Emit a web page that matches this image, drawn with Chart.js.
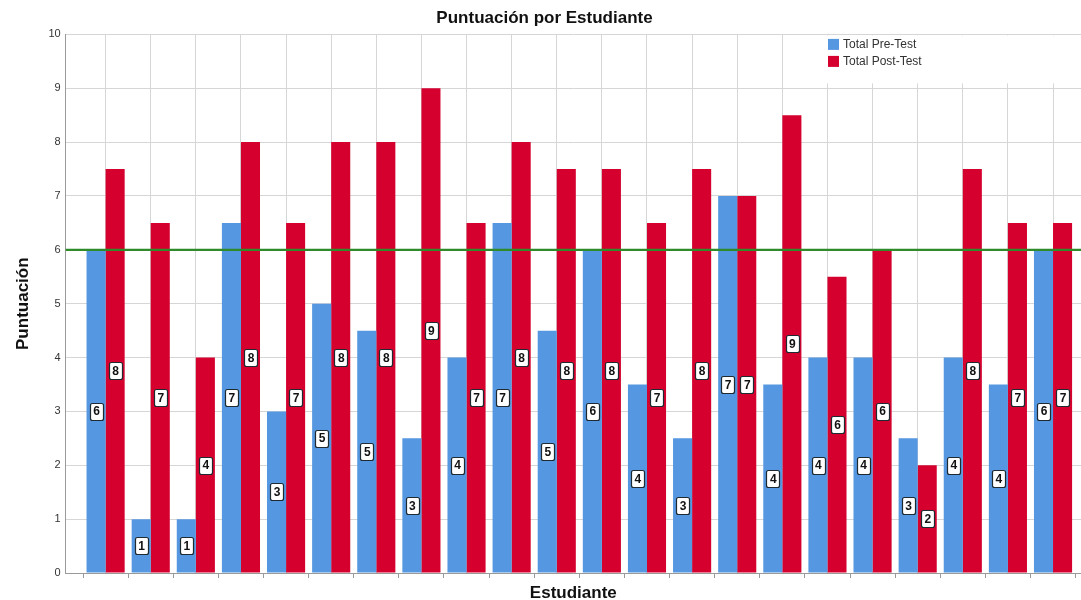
<!DOCTYPE html>
<html><head><meta charset="utf-8">
<script src="https://cdn.jsdelivr.net/npm/chart.js@4"></script>
<style>html,body{margin:0;padding:0;background:#fff}#wrap{width:1081px;height:600px;position:relative}</style>
</head><body><div id="wrap"><canvas id="c"></canvas></div>
<script>
const students = ['1','2','3','4','5','6','7','8','9','10','11','12','13','14','15','16','17','18','19','20','21','22'];
const preTest  = [6, 1, 1, 6.5, 3, 5, 4.5, 2.5, 4, 6.5, 4.5, 6, 3.5, 2.5, 7, 3.5, 4, 4, 2.5, 4, 3.5, 6];
const postTest = [7.5, 6.5, 4, 8, 6.5, 8, 8, 9, 6.5, 8, 7.5, 7.5, 6.5, 7.5, 7, 8.5, 5.5, 6, 2, 7.5, 6.5, 6.5];
const seriesNames = ['Total Pre-Test', 'Total Post-Test'];
const yTicks = [0,1,2,3,4,5,6,7,8,9,10];
const threshold = 6;

const FONT = '"Liberation Sans", Arial, sans-serif';
const BLUE = '#5597e0', RED = '#d6002f', GRID = '#d6d6d6', AXIS = '#9a9a9a';
const X_MIN = 0.114, X_MAX = 22.62;

const toPts = arr => arr.map((v, i) => ({x: i + 1, y: v}));

const refLine = {
  id: 'refLine',
  afterDatasetsDraw(chart) {
    const {ctx, chartArea: a, scales: {y}} = chart;
    const py = y.getPixelForValue(threshold);
    ctx.save();
    ctx.strokeStyle = '#2f8a2a'; ctx.lineWidth = 2.2;
    ctx.beginPath(); ctx.moveTo(a.left, py); ctx.lineTo(a.right, py); ctx.stroke();
    ctx.restore();
  }
};

const barLabels = {
  id: 'barLabels',
  afterDatasetsDraw(chart) {
    const ctx = chart.ctx;
    chart.data.datasets.forEach((ds, di) => {
      const meta = chart.getDatasetMeta(di);
      meta.data.forEach((el, i) => {
        const txt = String(Math.round(ds.data[i].y));
        const cx = el.x, cy = (el.y + el.base) / 2;
        ctx.save();
        ctx.font = 'bold 12px ' + FONT;
        const w = ctx.measureText(txt).width + 6, h = 17;
        ctx.fillStyle = '#fff'; ctx.strokeStyle = '#1e2a30'; ctx.lineWidth = 1.2;
        ctx.beginPath();
        ctx.roundRect(Math.round(cx - w / 2) + 0.5, Math.round(cy - h / 2) + 0.5, Math.round(w), h, 2);
        ctx.fill(); ctx.stroke();
        ctx.fillStyle = '#111'; ctx.textAlign = 'center'; ctx.textBaseline = 'middle';
        ctx.fillText(txt, cx + 0.5, cy + 1);
        ctx.restore();
      });
    });
  }
};

const innerLegend = {
  id: 'innerLegend',
  beforeDatasetsDraw(chart) {
    const {ctx, chartArea: a} = chart;
    ctx.save();
    ctx.fillStyle = '#fff';
    ctx.fillRect(800, a.top + 1, a.right - 800, 48);
    ctx.font = '12px ' + FONT;
    ctx.textBaseline = 'middle'; ctx.textAlign = 'left';
    chart.data.datasets.forEach((ds, i) => {
      const yy = a.top + 10 + i * 17;
      ctx.fillStyle = ds.backgroundColor;
      ctx.fillRect(828, yy - 5.5, 11, 11);
      ctx.fillStyle = '#333';
      ctx.fillText(ds.label, 843, yy + 0.5);
    });
    ctx.restore();
  }
};

new Chart(document.getElementById('c'), {
  type: 'bar',
  data: {
    labels: students,
    datasets: [
      {label: seriesNames[0], data: toPts(preTest), backgroundColor: BLUE, borderWidth: 0},
      {label: seriesNames[1], data: toPts(postTest), backgroundColor: RED, borderWidth: 0}
    ]
  },
  options: {
    responsive: true, maintainAspectRatio: false, animation: false,
    categoryPercentage: 0.845, barPercentage: 1.0,
    layout: {padding: {top: 8, left: 8, right: 0, bottom: 0}},
    plugins: {
      legend: {display: false},
      tooltip: {enabled: false},
      title: {display: true, text: 'Puntuación por Estudiante', color: '#111',
              font: {family: FONT, size: 17, weight: 'bold'}, padding: {top: 0, bottom: 6}}
    },
    scales: {
      x: {
        type: 'linear', min: X_MIN, max: X_MAX, position: 'bottom', offset: false,
        afterBuildTicks: s => { s.ticks = students.map((_, i) => ({value: i + 1})); },
        ticks: {display: false},
        grid: {color: GRID, drawTicks: false, offset: false},
        border: {color: AXIS}
      },
      xt: {
        type: 'linear', min: X_MIN, max: X_MAX, position: 'bottom', offset: false,
        afterBuildTicks: s => { s.ticks = students.concat(['']).map((_, i) => ({value: i + 0.5})); },
        ticks: {display: false},
        grid: {drawOnChartArea: false, drawTicks: true, tickLength: 5, color: AXIS, offset: false},
        border: {display: false},
        title: {display: true, text: 'Estudiante', color: '#111',
                font: {family: FONT, size: 17, weight: 'bold', lineHeight: 0.8}, padding: {top: 8.4, bottom: 0}}
      },
      y: {
        min: 0, max: 10,
        afterBuildTicks: s => { s.ticks = yTicks.map(v => ({value: v})); },
        ticks: {color: '#333', font: {family: FONT, size: 11}, padding: 5},
        grid: {color: GRID, drawTicks: false},
        border: {color: AXIS},
        title: {display: true, text: 'Puntuación', color: '#111',
                font: {family: FONT, size: 17, weight: 'bold'}, padding: {top: 5, bottom: 10}}
      }
    }
  },
  plugins: [innerLegend, refLine, barLabels]
});
</script>
</body></html>
